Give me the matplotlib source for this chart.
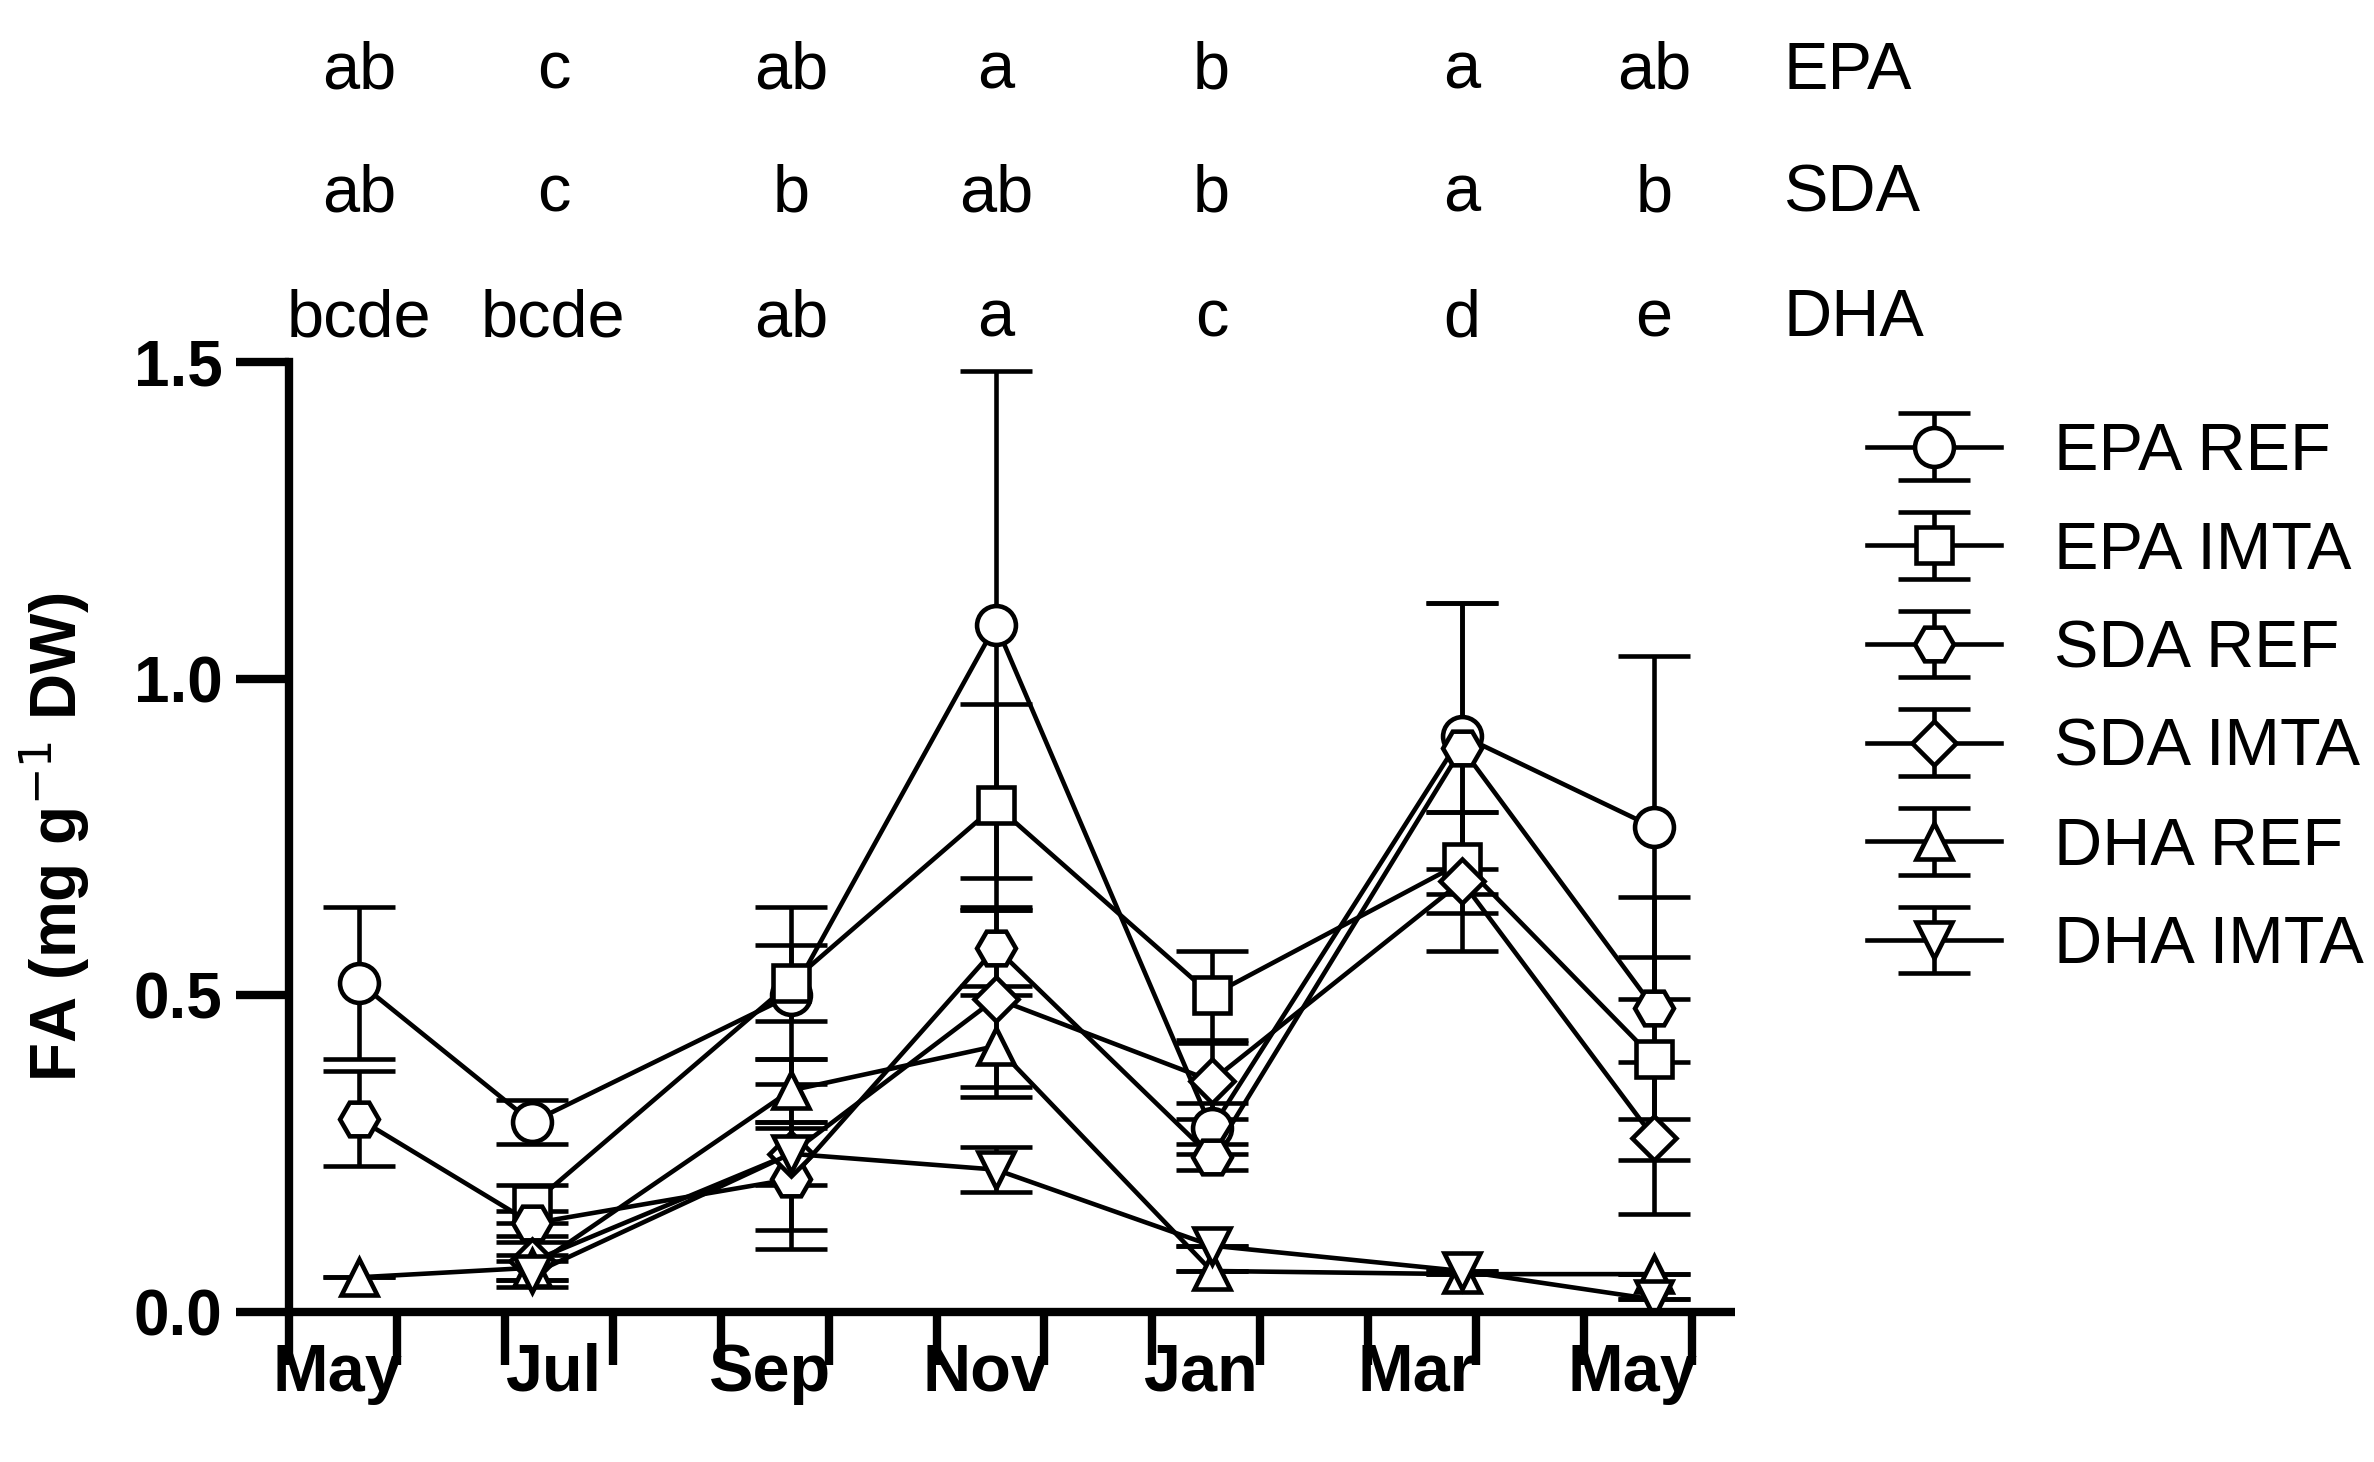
import matplotlib
matplotlib.use("Agg")
import matplotlib.pyplot as plt
import numpy as np

plt.rcParams['font.family'] = ['Liberation Sans', 'DejaVu Sans']

months = ["May", "Jul", "Sep", "Nov", "Jan", "Mar", "May"]
x_all = [0.65, 2.25, 4.65, 6.55, 8.55, 10.87, 12.65]
x_imta = x_all[1:]

epa_ref = [0.52, 0.30, 0.50, 1.085, 0.29, 0.91, 0.765]
epa_ref_err = [0.12, 0.035, 0.14, 0.40, 0.04, 0.21, 0.27]
epa_imta = [0.17, 0.52, 0.80, 0.50, 0.71, 0.40]
epa_imta_err = [0.03, 0.06, 0.16, 0.07, 0.08, 0.16]
sda_ref = [0.305, 0.14, 0.21, 0.575, 0.245, 0.89, 0.48]
sda_ref_err = [0.075, 0.02, 0.08, 0.06, 0.02, 0.23, 0.175]
sda_imta = [0.08, 0.25, 0.495, 0.365, 0.68, 0.275]
sda_imta_err = [0.03, 0.15, 0.14, 0.06, 0.11, 0.12]
dha_ref = [0.055, 0.07, 0.35, 0.42, 0.065, 0.06, 0.06]
dha_ref_err = [0.0, 0.02, 0.05, 0.08, 0.0, 0.0, 0.0]
dha_imta = [0.06, 0.25, 0.225, 0.105, 0.065, 0.02]
dha_imta_err = [0.02, 0.05, 0.035, 0.0, 0.0, 0.0]

letters_epa = ["ab", "c", "ab", "a", "b", "a", "ab"]
letters_sda = ["ab", "c", "b", "ab", "b", "a", "b"]
letters_dha = ["bcde", "bcde", "ab", "a", "c", "d", "e"]
letter_x = [0.65, 2.45, 4.65, 6.55, 8.55, 10.87, 12.65]

fig = plt.figure(figsize=(23.74, 14.62), dpi=100)
ax = fig.add_axes([0.1218, 0.1025, 0.609, 0.65])

lw = 3.3
common = dict(color='black', lw=lw, mfc='white', mec='black', mew=lw,
              ms=28, capsize=26, capthick=lw, elinewidth=lw)
series = [
    (x_all, epa_ref, epa_ref_err, 'o', "EPA REF"),
    (x_imta, epa_imta, epa_imta_err, 's', "EPA IMTA"),
    (x_all, sda_ref, sda_ref_err, 'H', "SDA REF"),
    (x_imta, sda_imta, sda_imta_err, 'D', "SDA IMTA"),
    (x_all, dha_ref, dha_ref_err, '^', "DHA REF"),
    (x_imta, dha_imta, dha_imta_err, 'v', "DHA IMTA"),
]
handles = []
for xs, ys, es, m, lab in series:
    ms = 22 if m == 'D' else (26 if m in 's^v' else 28)
    kw = dict(common); kw['ms'] = ms
    h = ax.errorbar(xs, ys, yerr=es, fmt='-' + m, label=lab, **kw)
    handles.append(h)

ax.set_xlim(0, 13.4)
ax.set_ylim(0, 1.5)
ax.set_yticks([0, 0.5, 1.0, 1.5])
ax.set_yticklabels(["0.0", "0.5", "1.0", "1.5"], fontsize=46, fontweight='bold')
ax.set_xticks(np.arange(0, 14))
ax.set_xticklabels([])
ax.set_xticks(np.arange(0.45, 13, 2), minor=True)
ax.set_xticklabels(months, minor=True, fontsize=48, fontweight='bold')
ax.tick_params(axis='x', which='minor', length=0, pad=22)
ax.tick_params(axis='both', which='major', length=38, width=6, direction='out')
ax.tick_params(axis='y', pad=10)
for s in ['top', 'right']:
    ax.spines[s].set_visible(False)
for s in ['left', 'bottom']:
    ax.spines[s].set_linewidth(6)
ax.spines['bottom'].set_capstyle('butt')
ax.set_ylabel("FA (mg g$^{-1}$ DW)", fontsize=46, fontweight='bold', labelpad=30)

for row, yv, name in [(letters_epa, 1.958, "EPA"), (letters_sda, 1.764, "SDA"), (letters_dha, 1.567, "DHA")]:
    for xv, t in zip(letter_x, row):
        ax.text(xv, yv, t, fontsize=48, ha='center', va='center', clip_on=False)
    ax.text(13.85, yv, name, fontsize=48, ha='left', va='center', clip_on=False)

leg = ax.legend(handles=handles, loc='upper left', bbox_to_anchor=(1.05, 1.0),
                frameon=False, fontsize=48, handlelength=2.0, labelspacing=0.55,
                handletextpad=0.8)
for h in leg.legend_handles:
    pass

fig.savefig("out.png", dpi=100)
